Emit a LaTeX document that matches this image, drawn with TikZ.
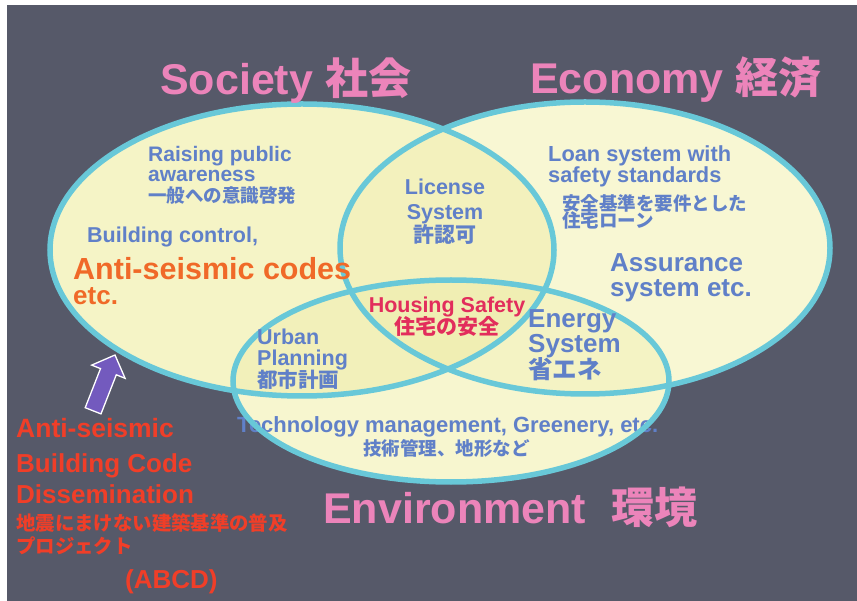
\documentclass[tikz,border=0pt]{standalone}
\usepackage{fontspec}
\setmainfont{Liberation Sans}
\newfontfamily\jp{Noto Sans CJK JP}
\newcommand\fsz[1]{\fontsize{#1}{#1}\selectfont}
\definecolor{bgc}{RGB}{86,89,105}
\definecolor{ring}{RGB}{104,200,216}
\definecolor{cream}{RGB}{251,251,224}
\definecolor{tint}{RGB}{232,228,140}
\definecolor{pinkt}{RGB}{236,132,186}
\definecolor{bluet}{RGB}{96,128,200}
\definecolor{oranget}{RGB}{240,105,40}
\definecolor{redt}{RGB}{240,62,40}
\definecolor{safet}{RGB}{226,45,92}
\definecolor{arrowc}{RGB}{115,90,190}
\tikzset{
  lbl/.style={anchor=base west, inner sep=0pt, font=\bfseries},
  lblc/.style={anchor=base, inner sep=0pt, font=\bfseries},
  ringline/.style={draw=ring, line width=5.5pt},
}
\begin{document}
\begin{tikzpicture}[x=1pt,y=-1pt]
\useasboundingbox (0,0) rectangle (857,601);
\fill[white] (0,0) rectangle (857,601);
\fill[bgc] (7,5) rectangle (857,601);
% fills
\fill[cream] (302,250) ellipse [x radius=252, y radius=146];
\fill[cream] (585,248) ellipse [x radius=245, y radius=146];
\fill[cream] (451,381) ellipse [x radius=218, y radius=101];
\fill[tint, opacity=0.3] (302,250) ellipse [x radius=252, y radius=146];
\fill[tint, opacity=0.15] (585,248) ellipse [x radius=245, y radius=146];
\fill[tint, opacity=0.2] (451,381) ellipse [x radius=218, y radius=101];
% text under outlines
\node[lbl, text=bluet] (tech) at (237,432) {\fsz{22}Technology management, Greenery, etc.};
% outlines
\draw[ringline] (302,250) ellipse [x radius=252, y radius=146];
\draw[ringline] (585,248) ellipse [x radius=245, y radius=146];
\draw[ringline] (451,381) ellipse [x radius=218, y radius=101];
% titles
\node[lbl, text=pinkt] (soc) at (160,95) {\fsz{43}Society {\jp 社会}};
\node[lbl, text=pinkt] (eco) at (530,94) {\fsz{43}Economy {\jp 経済}};
\node[lbl, text=pinkt] (env) at (323,523) {\fsz{43}Environment\hspace{0.6em}{\jp 環境}};
% society
\node[lbl, text=bluet] (rp1) at (148,162) {\fsz{21}Raising public};
\node[lbl, text=bluet] (rp2) at (148,182) {\fsz{21}awareness};
\node[lbl, text=bluet] (rp3) at (148,202.5) {\fsz{18.5}\jp 一般への意識啓発};
\node[lbl, text=bluet] (bc) at (87,243) {\fsz{21.5}Building control,};
\node[lbl, text=oranget] (asc) at (73,280) {\fsz{30.5}Anti-seismic codes};
\node[lbl, text=oranget] (etc1) at (73,305) {\fsz{26}etc.};
% license
\node[lblc, text=bluet] (ls1) at (445,195) {\fsz{21.5}License};
\node[lblc, text=bluet] (ls2) at (445,220) {\fsz{21.5}System};
\node[lblc, text=bluet] (ls3) at (445,243) {\fsz{21}\jp 許認可};
% economy
\node[lbl, text=bluet] (ln1) at (548,162) {\fsz{21.8}Loan system with};
\node[lbl, text=bluet] (ln2) at (548,183) {\fsz{21.8}safety standards};
\node[lbl, text=bluet] (ln3) at (562,211) {\fsz{18.5}\jp 安全基準を要件とした};
\node[lbl, text=bluet] (ln4) at (562,228) {\fsz{18.5}\jp 住宅ローン};
\node[lbl, text=bluet] (as1) at (610,272) {\fsz{26}Assurance};
\node[lbl, text=bluet] (as2) at (610,297) {\fsz{26}system etc.};
% center
\node[lblc, text=safet] (hs1) at (447,313) {\fsz{21.5}Housing Safety};
\node[lblc, text=safet] (hs2) at (447,335) {\fsz{21}\jp 住宅の安全};
% energy
\node[lbl, text=bluet] (en1) at (528,328) {\fsz{26}Energy};
\node[lbl, text=bluet] (en2) at (528,353) {\fsz{26}System};
\node[lbl, text=bluet] (en3) at (528,379) {\fsz{24.5}\jp 省エネ};
% urban
\node[lbl, text=bluet] (ub1) at (257,345) {\fsz{21.5}Urban};
\node[lbl, text=bluet] (ub2) at (257,366) {\fsz{21.5}Planning};
\node[lbl, text=bluet] (ub3) at (257,388) {\fsz{20.5}\jp 都市計画};
% environment
\node[lbl, text=bluet] (tech2) at (363,456) {\fsz{18.5}\jp 技術管理、地形など};
% ABCD
\node[lbl, text=redt] (ab1) at (16,438) {\fsz{26.5}Anti-seismic};
\node[lbl, text=redt] (ab2) at (16,472) {\fsz{26}Building Code};
\node[lbl, text=redt] (ab3) at (16,503) {\fsz{26}Dissemination};
\node[lbl, text=redt] (ab4) at (16,530) {\fsz{19.4}\jp 地震にまけない建築基準の普及};
\node[lbl, text=redt] (ab5) at (16,553) {\fsz{19.4}\jp プロジェクト};
\node[lbl, text=redt] (ab6) at (125,588) {\fsz{26}(ABCD)};
% block arrow
\draw[fill=arrowc, draw=white, line width=1.3pt, line join=miter]
  (115,355) -- (125.1,378.3) -- (116.3,374.8) -- (101.0,413.9)
  -- (85.2,407.7) -- (100.5,368.6) -- (91.7,365.1) -- cycle;
\end{tikzpicture}
\end{document}
